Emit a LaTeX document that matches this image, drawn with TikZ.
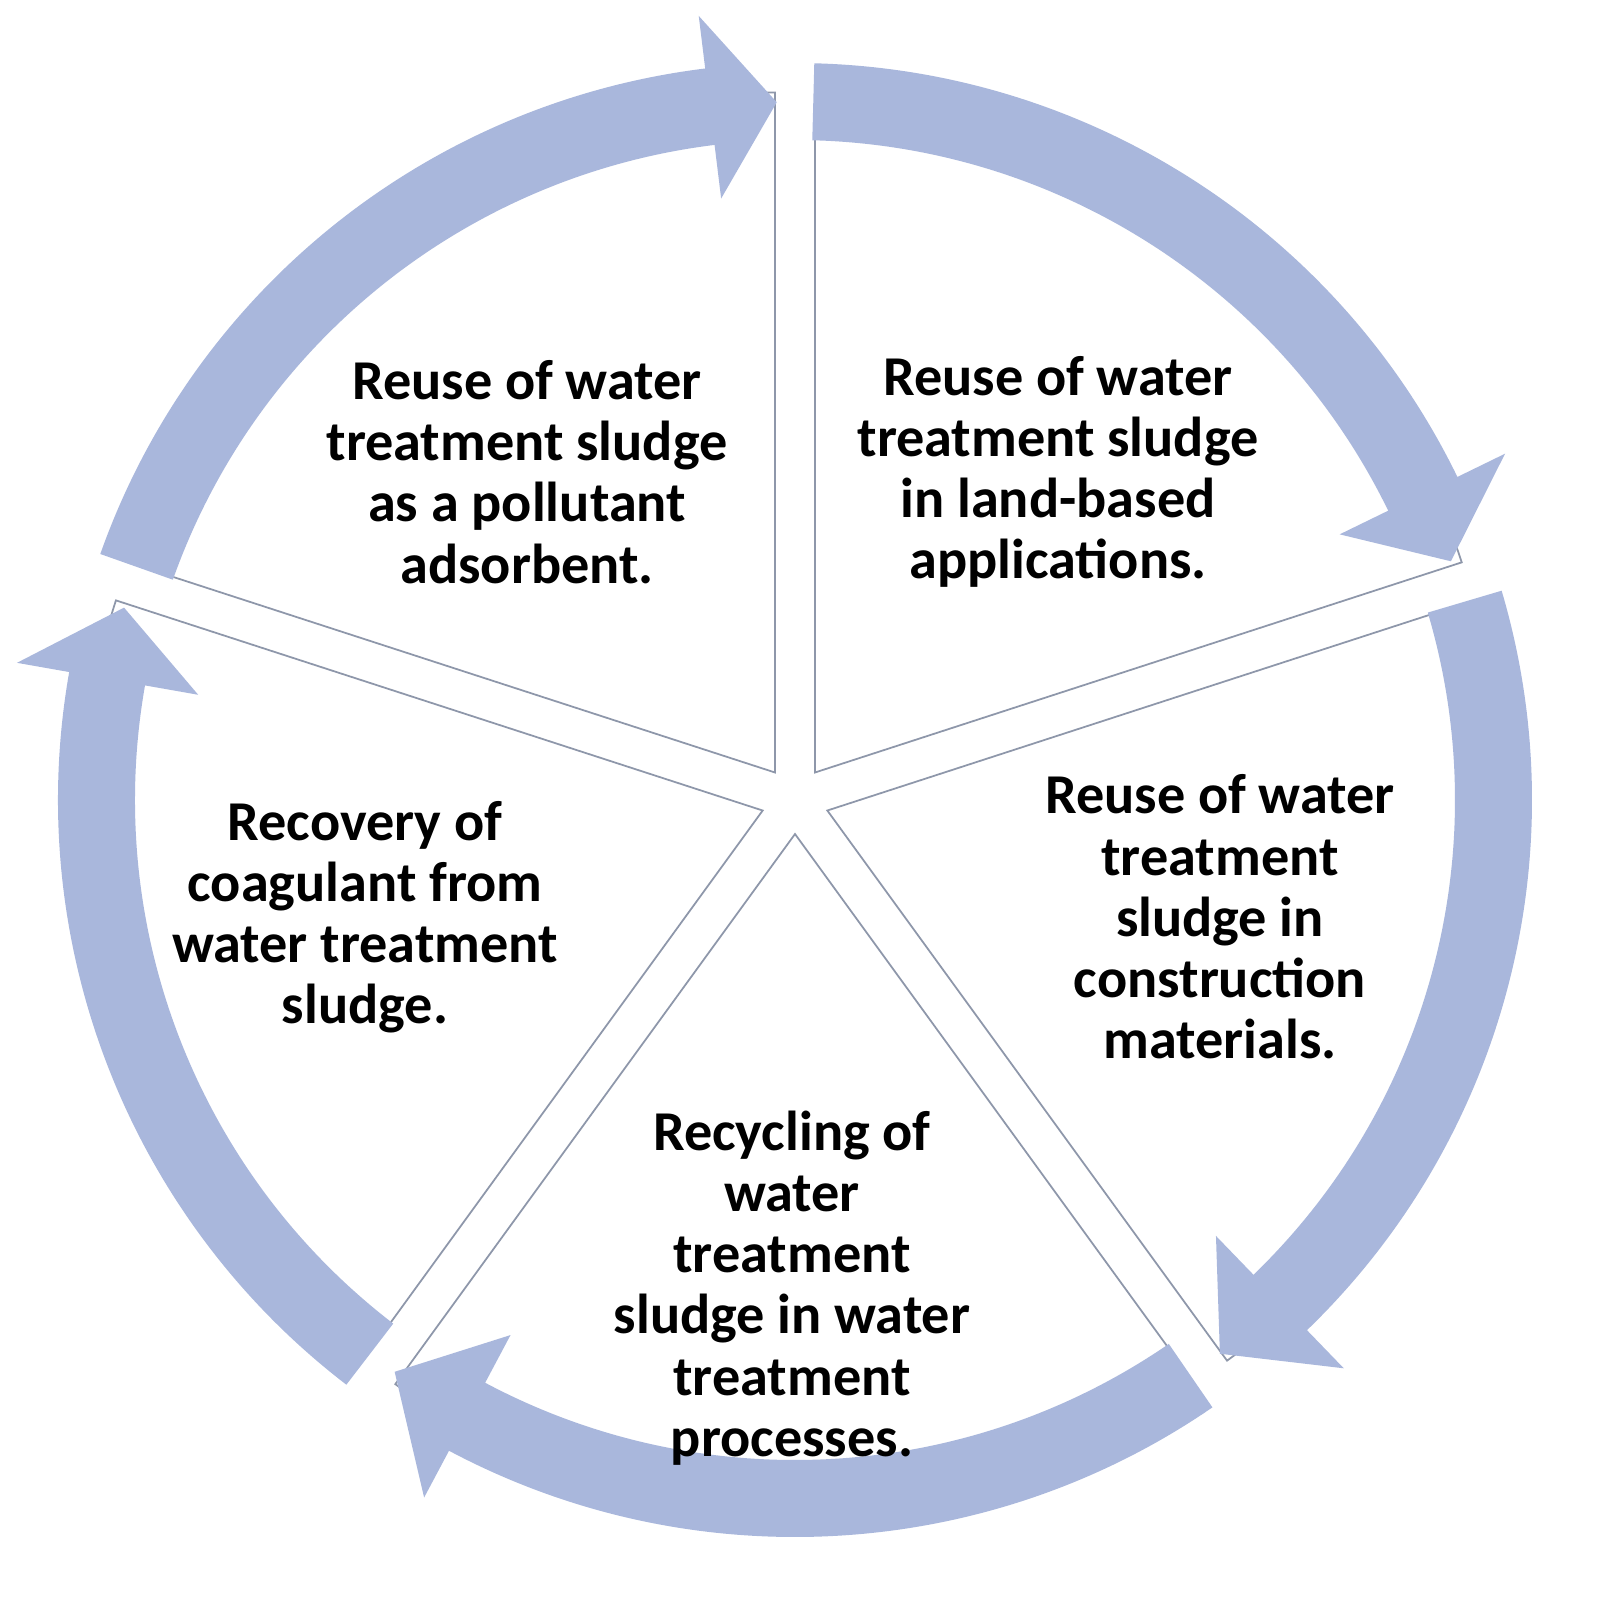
\documentclass[tikz,border=0pt]{standalone}
\usepackage{fontspec}
\setmainfont{Carlito}
\begin{document}
\begin{tikzpicture}[x=0.01cm,y=0.01cm]
\definecolor{ringc}{HTML}{A9B7DC}
\definecolor{wedgec}{HTML}{8E97AA}
\tikzset{wedgebox/.style={fill=white,draw=wedgec,line width=0.5pt},
 arr/.style={fill=ringc},
 lbl/.style={align=center,font=\fontsize{16pt}{17.4pt}\selectfont\bfseries}}
\useasboundingbox (0,0) rectangle (1604,-1612);
\coordinate (c) at (795,-800);
% wedges
\foreach \a in {90,18,-54,-126,162}{
  \pgfmathsetmacro\b{\a-72}
  \pgfmathsetmacro\m{\a-36}
  \fill[wedgebox] ([shift={(\m:34)}]c) -- ++(\a:680)
    arc[start angle=\a, end angle=\b, radius=680] -- cycle;
}
% arrows: start, head base, tip
\foreach \s/\h/\t in {160.5/97/91.5, 88.5/26/20, 16.5/-46/-52.5, -55.5/-118/-125, 232.5/170/164}{
  \fill[arr] ([shift={(\s:737)}]c) arc[start angle=\s, end angle=\h, radius=737]
    -- ([shift={(\h:790)}]c) -- ([shift={(\t:698)}]c) -- ([shift={(\h:606)}]c)
    -- ([shift={(\h:660)}]c) arc[start angle=\h, end angle=\s, radius=660] -- cycle;
}
\node[lbl] (t1) at (527,-472) {Reuse of water\\treatment sludge\\as a pollutant\\adsorbent.};
\node[lbl] (t2) at (1058,-472) {Reuse of water\\treatment sludge\\in land-based\\applications.};
\node[lbl] (t3) at (1220,-917) {Reuse of water\\treatment\\sludge in\\construction\\materials.};
\node[lbl] (t4) at (792,-1288) {Recycling of\\water\\treatment\\sludge in water\\treatment\\processes.};
\node[lbl] (t5) at (365,-917) {Recovery of\\coagulant from\\water treatment\\sludge.};
\end{tikzpicture}
\end{document}
